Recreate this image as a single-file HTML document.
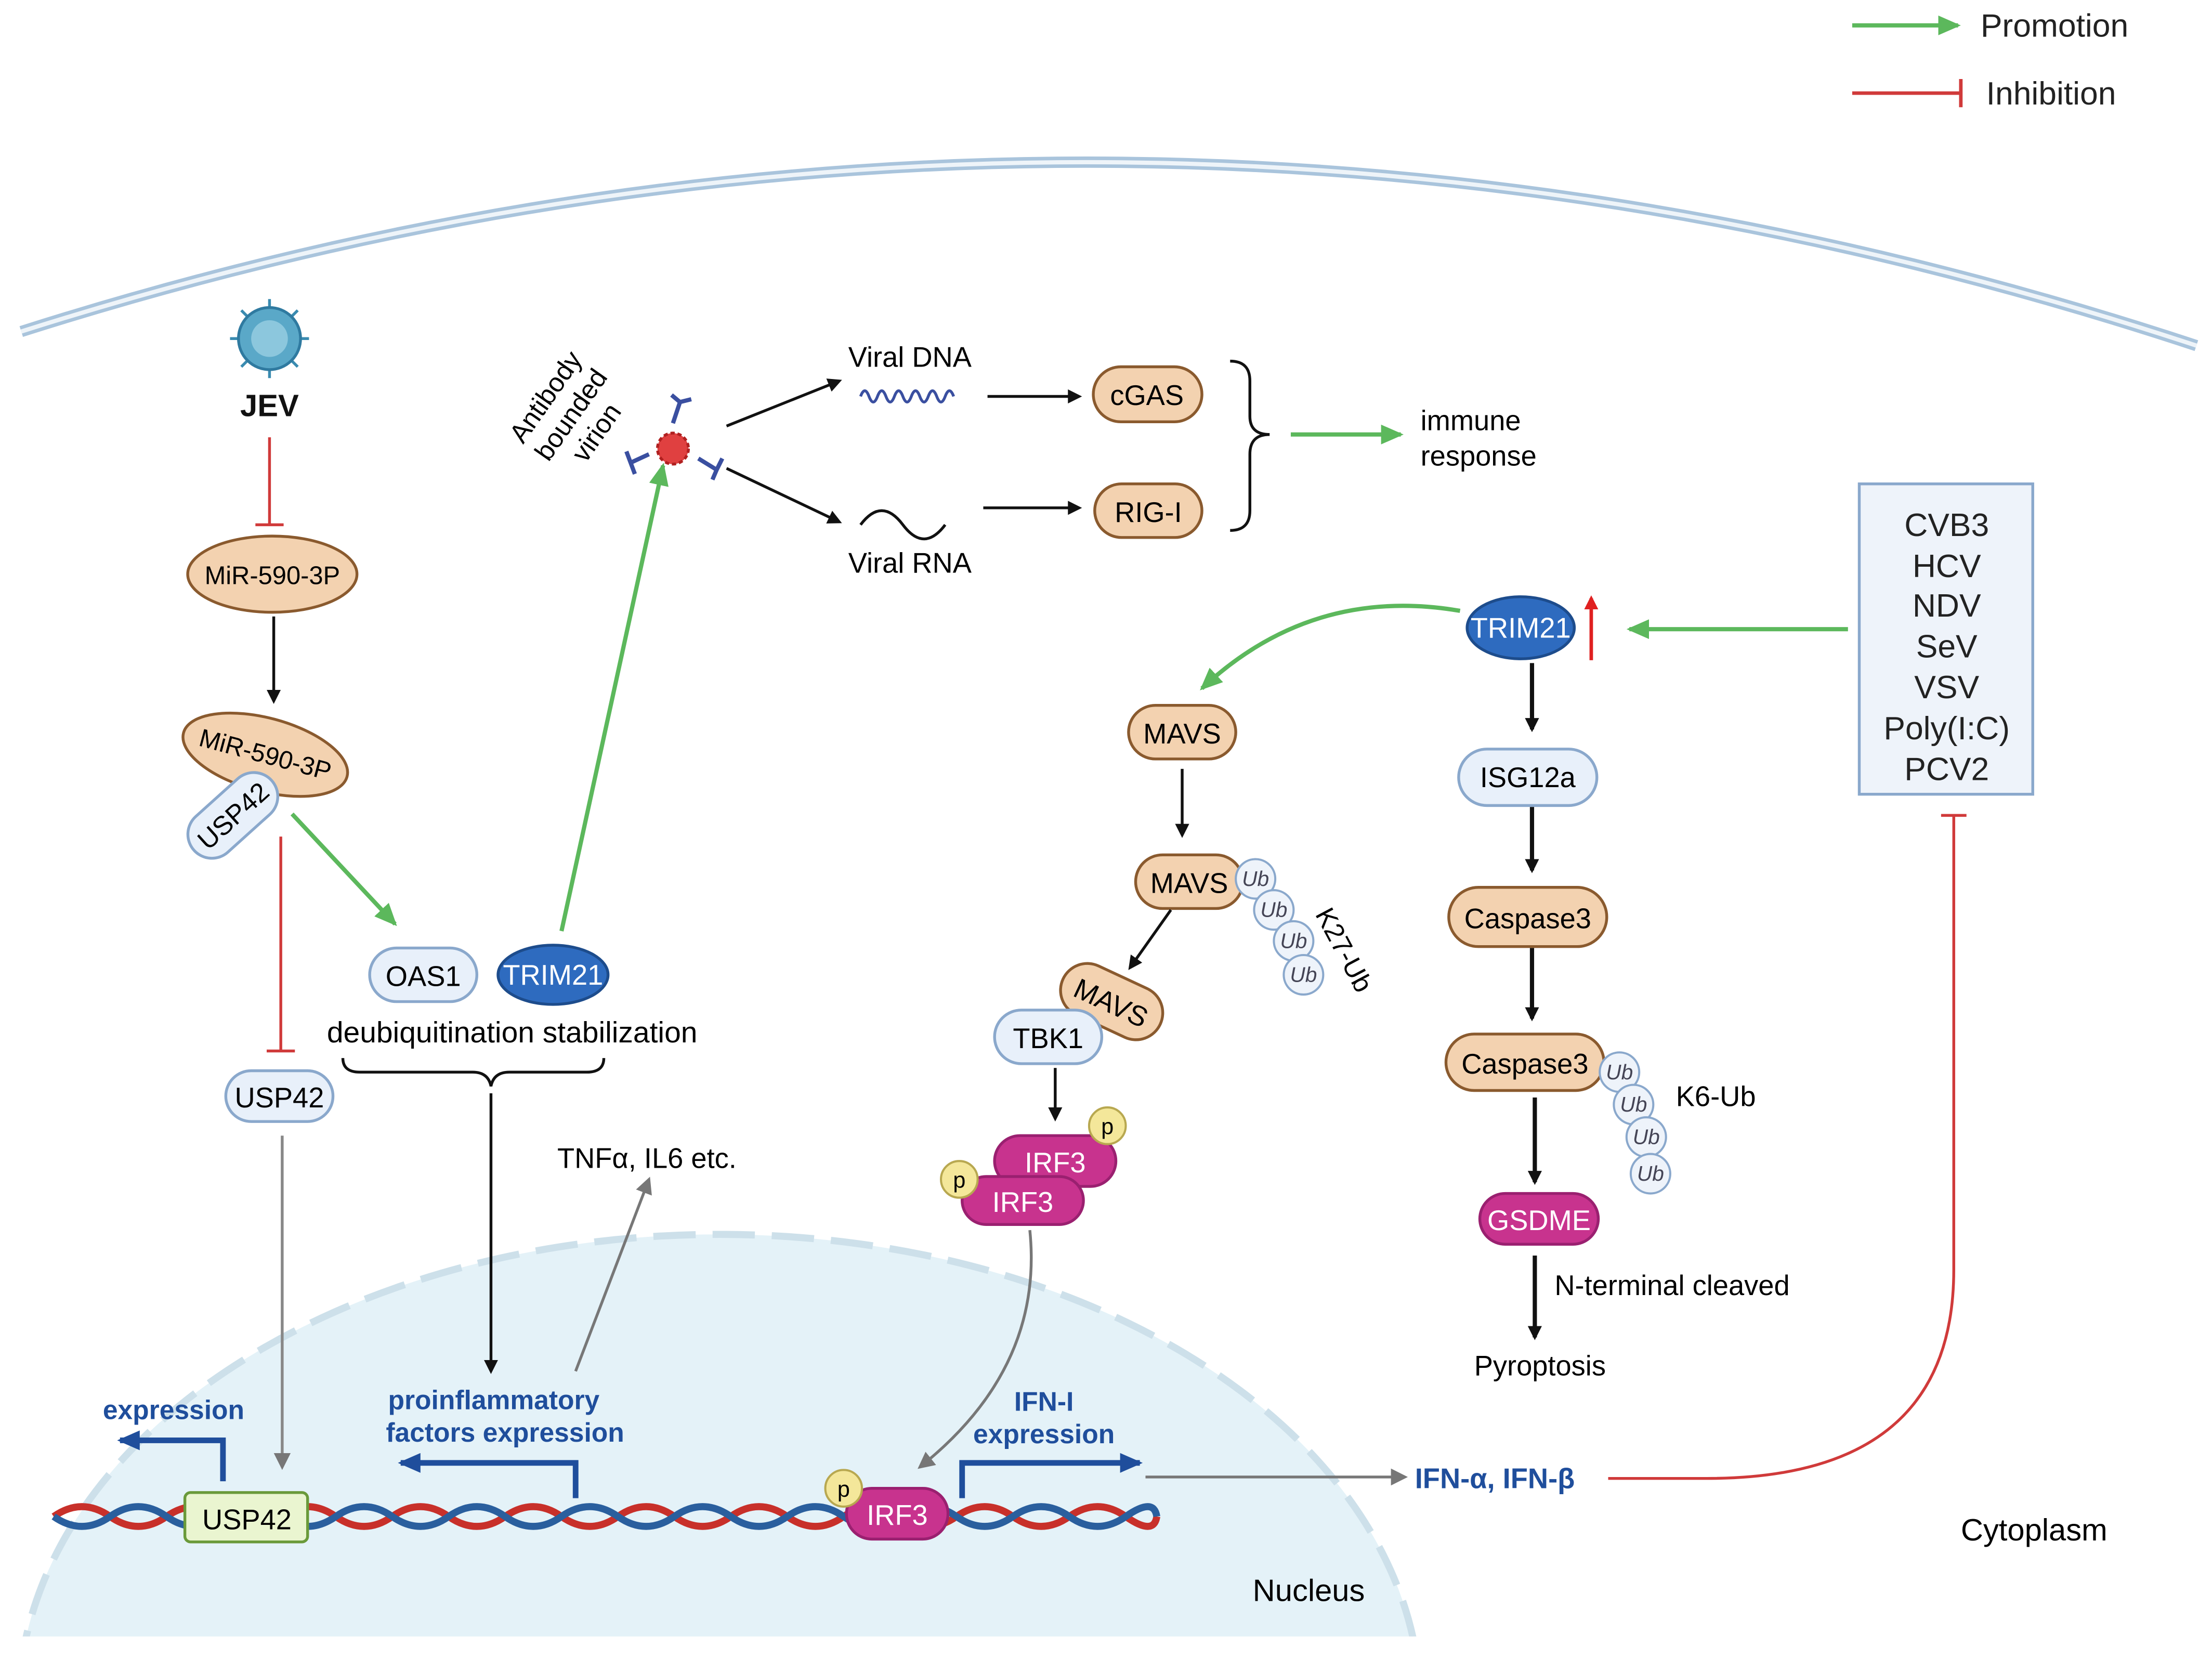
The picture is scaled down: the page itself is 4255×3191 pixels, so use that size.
<!DOCTYPE html>
<html><head><meta charset="utf-8"><style>
html,body{margin:0;padding:0;background:#fff;width:4255px;height:3191px;overflow:hidden;}
svg{display:block;}
text{font-family:"Liberation Sans",sans-serif;}
</style></head><body>
<svg width="4255" height="3191" viewBox="0 0 1568 1176" xmlns="http://www.w3.org/2000/svg">
<defs>
<marker id="ak" markerWidth="10" markerHeight="10" refX="8" refY="5" orient="auto" markerUnits="userSpaceOnUse"><path d="M0,0 L10,5 L0,10 z" fill="#111"/></marker>
<marker id="ag" markerWidth="16" markerHeight="14" refX="14" refY="7" orient="auto" markerUnits="userSpaceOnUse"><path d="M0,0 L16,7 L0,14 z" fill="#5cb85c"/></marker>
<marker id="agr" markerWidth="12" markerHeight="12" refX="10" refY="6" orient="auto" markerUnits="userSpaceOnUse"><path d="M0,0 L12,6 L0,12 z" fill="#777"/></marker>
<marker id="ab" markerWidth="16" markerHeight="14" refX="14" refY="7" orient="auto" markerUnits="userSpaceOnUse"><path d="M0,0 L16,7 L0,14 z" fill="#1f4e9c"/></marker>
<marker id="ar" markerWidth="10" markerHeight="10" refX="8" refY="5" orient="auto" markerUnits="userSpaceOnUse"><path d="M0,0 L10,5 L0,10 z" fill="#e02020"/></marker>
<clipPath id="nc"><rect x="15" y="0" width="1553" height="1160"/></clipPath>
</defs>

<!-- legend -->
<line x1="1313" y1="18" x2="1388" y2="18" stroke="#5cb85c" stroke-width="3" marker-end="url(#ag)"/>
<text x="1404" y="26" font-size="23" fill="#222">Promotion</text>
<line x1="1313" y1="66" x2="1390" y2="66" stroke="#d03a3a" stroke-width="2.5"/>
<line x1="1390" y1="56" x2="1390" y2="76" stroke="#d03a3a" stroke-width="2.5"/>
<text x="1408" y="74" font-size="23" fill="#222">Inhibition</text>

<!-- membrane -->
<path d="M15,235 Q785,-10 1557,245" fill="none" stroke="#a9c4dc" stroke-width="8"/>
<path d="M15,235 Q785,-10 1557,245" fill="none" stroke="#eef4f9" stroke-width="3"/>

<!-- nucleus -->
<g clip-path="url(#nc)">
<ellipse cx="510" cy="1210" rx="497" ry="335" fill="#e4f2f8"/>
<ellipse cx="510" cy="1210" rx="497" ry="335" fill="none" stroke="#cde0ea" stroke-width="5" stroke-dasharray="30,12"/>
</g>

<!-- JEV -->
<g stroke="#3a8bb0" stroke-width="2">
<line x1="191" y1="212" x2="191" y2="268"/><line x1="163" y1="240" x2="219" y2="240"/>
<line x1="171" y1="220" x2="211" y2="260"/><line x1="211" y1="220" x2="171" y2="260"/>
</g>
<circle cx="191" cy="240" r="22" fill="#5aa8c8" stroke="#2f7aa0" stroke-width="2"/>
<circle cx="191" cy="240" r="13" fill="#8cc7dd"/>
<text x="191" y="295" font-size="22" font-weight="bold" text-anchor="middle" fill="#111">JEV</text>
<line x1="191" y1="310" x2="191" y2="372" stroke="#d03a3a" stroke-width="2"/>
<line x1="181" y1="372" x2="201" y2="372" stroke="#d03a3a" stroke-width="2"/>

<ellipse cx="193" cy="407" rx="60" ry="27" fill="#f3d2b0" stroke="#8a5a2e" stroke-width="2"/>
<text x="193" y="414" font-size="18" text-anchor="middle">MiR-590-3P</text>
<line x1="194" y1="437" x2="194" y2="497" stroke="#111" stroke-width="2" marker-end="url(#ak)"/>
<g transform="rotate(15 188 535)"><ellipse cx="188" cy="535" rx="60" ry="26" fill="#f3d2b0" stroke="#8a5a2e" stroke-width="2"/>
<text x="188" y="541" font-size="18" text-anchor="middle">MiR-590-3P</text></g>
<g transform="rotate(-42 165 578)"><rect x="128" y="561" width="74" height="34" rx="17" fill="#e8f0fa" stroke="#8aa8cc" stroke-width="2"/>
<text x="165" y="585" font-size="19" text-anchor="middle">USP42</text></g>
<line x1="199" y1="593" x2="199" y2="745" stroke="#d03a3a" stroke-width="2"/>
<line x1="189" y1="745" x2="209" y2="745" stroke="#d03a3a" stroke-width="2"/>
<line x1="207" y1="577" x2="280" y2="655" stroke="#5cb85c" stroke-width="3" marker-end="url(#ag)"/>

<rect x="160" y="759" width="76" height="36" rx="18" fill="#e8f0fa" stroke="#8aa8cc" stroke-width="2"/>
<text x="198" y="785" font-size="20" text-anchor="middle">USP42</text>
<line x1="200" y1="805" x2="200" y2="1040" stroke="#888" stroke-width="2" marker-end="url(#agr)"/>

<rect x="262" y="672" width="76" height="38" rx="19" fill="#e8f0fa" stroke="#8aa8cc" stroke-width="2"/>
<text x="300" y="699" font-size="20" text-anchor="middle">OAS1</text>
<ellipse cx="392" cy="691" rx="39" ry="21" fill="#2e6bbf" stroke="#1d4c8c" stroke-width="2"/>
<text x="392" y="698" font-size="20" text-anchor="middle" fill="#fff">TRIM21</text>
<text x="363" y="739" font-size="21" text-anchor="middle">deubiquitination stabilization</text>
<path d="M243,750 Q243,760 255,760 L335,760 Q346,760 348,770 Q350,760 361,760 L416,760 Q428,760 428,750" fill="none" stroke="#111" stroke-width="2"/>
<line x1="348" y1="775" x2="348" y2="972" stroke="#111" stroke-width="2" marker-end="url(#ak)"/>
<line x1="408" y1="972" x2="460" y2="836" stroke="#777" stroke-width="2" marker-end="url(#agr)"/>
<text x="395" y="828" font-size="20">TNFα, IL6 etc.</text>
<line x1="398" y1="660" x2="470" y2="330" stroke="#5cb85c" stroke-width="3" marker-end="url(#ag)"/>

<!-- antibody virion -->
<text transform="translate(392,285) rotate(-55)" font-size="19" text-anchor="middle"><tspan x="0" y="0">Antibody</tspan><tspan x="0" y="22">bounded</tspan><tspan x="0" y="44">virion</tspan></text>
<g stroke="#3a4fa0" stroke-width="3" fill="none">
<path d="M477,300 L482,285 M482,285 L476,280 M482,285 L490,283"/>
<path d="M495,325 L508,333 M508,333 L505,340 M508,333 L512,325"/>
<path d="M460,322 L447,328 M447,328 L444,320 M447,328 L450,336"/>
</g>
<circle cx="477" cy="318" r="11" fill="#e04040" stroke="#b02020" stroke-width="2" stroke-dasharray="3,2"/>
<line x1="515" y1="302" x2="595" y2="270" stroke="#111" stroke-width="2" marker-end="url(#ak)"/>
<line x1="515" y1="332" x2="595" y2="370" stroke="#111" stroke-width="2" marker-end="url(#ak)"/>
<text x="645" y="260" font-size="20" text-anchor="middle">Viral DNA</text>
<path d="M610,281 q3,-8 6,0 t6,0 t6,0 t6,0 t6,0 t6,0 t6,0 t6,0 t6,0 t6,0 t6,0" fill="none" stroke="#3a4fa0" stroke-width="2"/>
<path d="M610,372 q15,-20 30,0 t30,0" fill="none" stroke="#111" stroke-width="2"/>
<text x="645" y="406" font-size="20" text-anchor="middle">Viral RNA</text>
<line x1="700" y1="281" x2="765" y2="281" stroke="#111" stroke-width="2" marker-end="url(#ak)"/>
<line x1="697" y1="360" x2="765" y2="360" stroke="#111" stroke-width="2" marker-end="url(#ak)"/>
<rect x="775" y="260" width="77" height="39" rx="19.5" fill="#f3d2b0" stroke="#8a5a2e" stroke-width="2"/>
<text x="813" y="287" font-size="20" text-anchor="middle">cGAS</text>
<rect x="776" y="343" width="76" height="38" rx="19" fill="#f3d2b0" stroke="#8a5a2e" stroke-width="2"/>
<text x="814" y="370" font-size="20" text-anchor="middle">RIG-I</text>
<path d="M872,256 Q886,256 886,270 L886,295 Q886,308 900,308 Q886,308 886,322 L886,362 Q886,376 872,376" fill="none" stroke="#111" stroke-width="2"/>
<line x1="915" y1="308" x2="993" y2="308" stroke="#5cb85c" stroke-width="3" marker-end="url(#ag)"/>
<text x="1007" y="305" font-size="20">immune</text>
<text x="1007" y="330" font-size="20">response</text>

<!-- virus box -->
<rect x="1318" y="343" width="123" height="220" fill="#eef3fa" stroke="#8aa8cc" stroke-width="2"/>
<g font-size="23" text-anchor="middle" fill="#222">
<text x="1380" y="380">CVB3</text><text x="1380" y="409">HCV</text><text x="1380" y="437">NDV</text>
<text x="1380" y="466">SeV</text><text x="1380" y="495">VSV</text><text x="1380" y="524">Poly(I:C)</text><text x="1380" y="553">PCV2</text>
</g>
<path d="M1385,578 L1385,900 Q1385,1048 1210,1048 L1140,1048" fill="none" stroke="#d03a3a" stroke-width="2"/>
<line x1="1376" y1="578" x2="1394" y2="578" stroke="#d03a3a" stroke-width="2"/>
<line x1="1310" y1="446" x2="1155" y2="446" stroke="#5cb85c" stroke-width="3" marker-end="url(#ag)"/>

<ellipse cx="1078" cy="445" rx="38" ry="22" fill="#2e6bbf" stroke="#1d4c8c" stroke-width="2"/>
<text x="1078" y="452" font-size="20" text-anchor="middle" fill="#fff">TRIM21</text>
<line x1="1128" y1="468" x2="1128" y2="424" stroke="#e02020" stroke-width="2.5" marker-end="url(#ar)"/>
<path d="M1035,433 Q930,415 852,488" fill="none" stroke="#5cb85c" stroke-width="3" marker-end="url(#ag)"/>

<!-- MAVS path -->
<rect x="800" y="500" width="76" height="38" rx="19" fill="#f3d2b0" stroke="#8a5a2e" stroke-width="2"/>
<text x="838" y="527" font-size="20" text-anchor="middle">MAVS</text>
<line x1="838" y1="545" x2="838" y2="592" stroke="#111" stroke-width="2" marker-end="url(#ak)"/>
<rect x="805" y="606" width="76" height="38" rx="19" fill="#f3d2b0" stroke="#8a5a2e" stroke-width="2"/>
<text x="843" y="633" font-size="20" text-anchor="middle">MAVS</text>
<g font-size="15" fill="#445" text-anchor="middle" font-style="italic">
<circle cx="890" cy="623" r="14" fill="#eef3fa" stroke="#8aa8cc" stroke-width="1.5"/><text x="890" y="628">Ub</text>
<circle cx="903" cy="645" r="14" fill="#eef3fa" stroke="#8aa8cc" stroke-width="1.5"/><text x="903" y="650">Ub</text>
<circle cx="917" cy="667" r="14" fill="#eef3fa" stroke="#8aa8cc" stroke-width="1.5"/><text x="917" y="672">Ub</text>
<circle cx="924" cy="691" r="14" fill="#eef3fa" stroke="#8aa8cc" stroke-width="1.5"/><text x="924" y="696">Ub</text>
</g>
<text transform="translate(932,648) rotate(62)" font-size="19">K27-Ub</text>
<line x1="830" y1="645" x2="801" y2="686" stroke="#111" stroke-width="2" marker-end="url(#ak)"/>
<g transform="rotate(25 788 710)"><rect x="750" y="691" width="76" height="38" rx="19" fill="#f3d2b0" stroke="#8a5a2e" stroke-width="2"/>
<text x="788" y="718" font-size="20" text-anchor="middle">MAVS</text></g>
<rect x="705" y="716" width="76" height="38" rx="19" fill="#e8f0fa" stroke="#8aa8cc" stroke-width="2"/>
<text x="743" y="743" font-size="20" text-anchor="middle">TBK1</text>
<line x1="748" y1="757" x2="748" y2="793" stroke="#111" stroke-width="2" marker-end="url(#ak)"/>
<rect x="705" y="805" width="86" height="36" rx="18" fill="#c8338e" stroke="#9a2070" stroke-width="2"/>
<text x="748" y="831" font-size="20" text-anchor="middle" fill="#fff">IRF3</text>
<rect x="682" y="834" width="86" height="34" rx="17" fill="#c8338e" stroke="#9a2070" stroke-width="2"/>
<text x="725" y="859" font-size="20" text-anchor="middle" fill="#fff">IRF3</text>
<circle cx="785" cy="798" r="13" fill="#f4e79a" stroke="#b8a850" stroke-width="1.5"/><text x="785" y="804" font-size="16" text-anchor="middle" font-family="Liberation Serif">p</text>
<circle cx="680" cy="836" r="13" fill="#f4e79a" stroke="#b8a850" stroke-width="1.5"/><text x="680" y="842" font-size="16" text-anchor="middle" font-family="Liberation Serif">p</text>
<path d="M730,872 Q740,970 652,1040" fill="none" stroke="#777" stroke-width="2" marker-end="url(#agr)"/>

<!-- right column -->
<g stroke="#111" stroke-width="3">
<line x1="1086" y1="470" x2="1086" y2="517" marker-end="url(#ak)"/>
<line x1="1086" y1="572" x2="1086" y2="617" marker-end="url(#ak)"/>
<line x1="1086" y1="672" x2="1086" y2="722" marker-end="url(#ak)"/>
<line x1="1088" y1="778" x2="1088" y2="838" marker-end="url(#ak)"/>
<line x1="1088" y1="890" x2="1088" y2="948" marker-end="url(#ak)"/>
</g>
<rect x="1034" y="531" width="98" height="40" rx="20" fill="#e8f0fa" stroke="#8aa8cc" stroke-width="2"/>
<text x="1083" y="558" font-size="20" text-anchor="middle">ISG12a</text>
<rect x="1027" y="629" width="112" height="42" rx="21" fill="#f3d2b0" stroke="#8a5a2e" stroke-width="2"/>
<text x="1083" y="658" font-size="20" text-anchor="middle">Caspase3</text>
<rect x="1025" y="733" width="112" height="40" rx="20" fill="#f3d2b0" stroke="#8a5a2e" stroke-width="2"/>
<text x="1081" y="761" font-size="20" text-anchor="middle">Caspase3</text>
<g font-size="15" fill="#445" text-anchor="middle" font-style="italic">
<circle cx="1148" cy="760" r="14" fill="#eef3fa" stroke="#8aa8cc" stroke-width="1.5"/><text x="1148" y="765">Ub</text>
<circle cx="1158" cy="783" r="14" fill="#eef3fa" stroke="#8aa8cc" stroke-width="1.5"/><text x="1158" y="788">Ub</text>
<circle cx="1167" cy="806" r="14" fill="#eef3fa" stroke="#8aa8cc" stroke-width="1.5"/><text x="1167" y="811">Ub</text>
<circle cx="1170" cy="832" r="14" fill="#eef3fa" stroke="#8aa8cc" stroke-width="1.5"/><text x="1170" y="837">Ub</text>
</g>
<text x="1188" y="784" font-size="20">K6-Ub</text>
<rect x="1049" y="846" width="84" height="36" rx="18" fill="#c8338e" stroke="#9a2070" stroke-width="2"/>
<text x="1091" y="872" font-size="20" text-anchor="middle" fill="#fff">GSDME</text>
<text x="1102" y="918" font-size="20">N-terminal cleaved</text>
<text x="1045" y="975" font-size="20">Pyroptosis</text>

<!-- DNA -->
<path d="M38,1075 q20,-14 40,0 t40,0 t40,0 t40,0 t40,0 t40,0 t40,0 t40,0 t40,0 t40,0 t40,0 t40,0 t40,0 t40,0 t40,0 t40,0 t40,0 t40,0 t40,0 t22,0" fill="none" stroke="#c8302a" stroke-width="5"/>
<path d="M38,1075 q20,14 40,0 t40,0 t40,0 t40,0 t40,0 t40,0 t40,0 t40,0 t40,0 t40,0 t40,0 t40,0 t40,0 t40,0 t40,0 t40,0 t40,0 t40,0 t40,0 t22,0" fill="none" stroke="#2a5f9e" stroke-width="5"/>
<rect x="131" y="1058" width="87" height="35" rx="4" fill="#eaf5d0" stroke="#6a9a3a" stroke-width="2"/>
<text x="175" y="1084" font-size="20" text-anchor="middle">USP42</text>
<path d="M158,1050 L158,1021 L85,1021" fill="none" stroke="#1f4e9c" stroke-width="4" marker-end="url(#ab)"/>
<text x="123" y="1006" font-size="19" font-weight="bold" fill="#1f4e9c" text-anchor="middle">expression</text>
<text x="350" y="999" font-size="19" font-weight="bold" fill="#1f4e9c" text-anchor="middle">proinflammatory</text>
<text x="358" y="1022" font-size="19" font-weight="bold" fill="#1f4e9c" text-anchor="middle">factors expression</text>
<path d="M408,1062 L408,1037 L284,1037" fill="none" stroke="#1f4e9c" stroke-width="4" marker-end="url(#ab)"/>
<rect x="600" y="1055" width="72" height="36" rx="18" fill="#c8338e" stroke="#9a2070" stroke-width="2"/>
<text x="636" y="1081" font-size="20" text-anchor="middle" fill="#fff">IRF3</text>
<circle cx="598" cy="1055" r="13" fill="#f4e79a" stroke="#b8a850" stroke-width="1.5"/><text x="598" y="1061" font-size="16" text-anchor="middle" font-family="Liberation Serif">p</text>
<text x="740" y="1000" font-size="19" font-weight="bold" fill="#1f4e9c" text-anchor="middle">IFN-I</text>
<text x="740" y="1023" font-size="19" font-weight="bold" fill="#1f4e9c" text-anchor="middle">expression</text>
<path d="M682,1062 L682,1037 L808,1037" fill="none" stroke="#1f4e9c" stroke-width="4" marker-end="url(#ab)"/>
<line x1="812" y1="1047" x2="996" y2="1047" stroke="#777" stroke-width="2" marker-end="url(#agr)"/>
<text x="1003" y="1055" font-size="20" font-weight="bold" fill="#1f4e9c">IFN-α, IFN-β</text>
<text x="1390" y="1092" font-size="22">Cytoplasm</text>
<text x="888" y="1135" font-size="22">Nucleus</text>
</svg>
</body></html>
